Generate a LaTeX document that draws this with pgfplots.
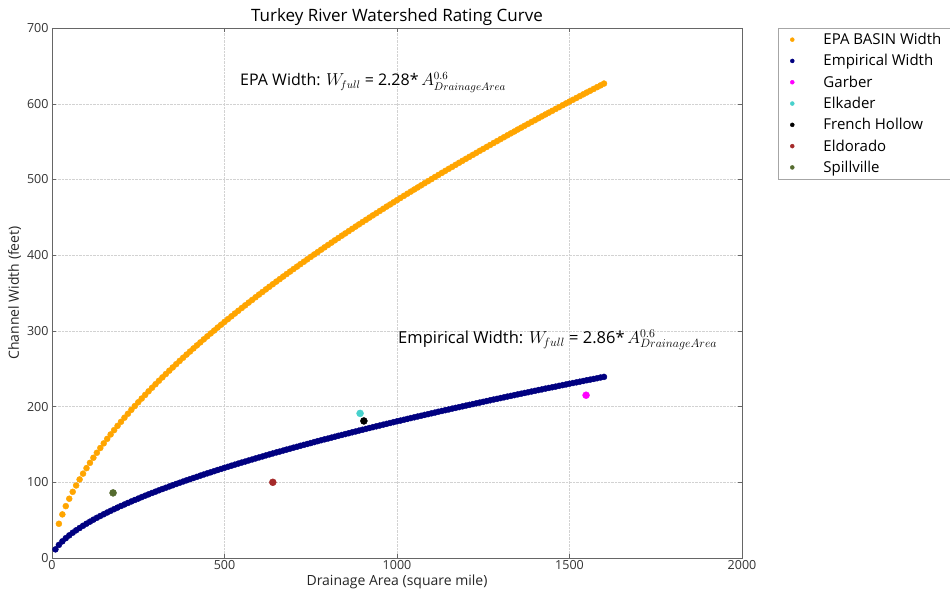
\documentclass[border=0pt]{standalone}
\usepackage{pgfplots}
\pgfplotsset{compat=1.18}
\usepackage{fontspec}
\setmainfont{Open Sans}
\definecolor{epaorange}{RGB}{255,165,0}
\definecolor{empnavy}{RGB}{0,0,128}
\definecolor{garber}{RGB}{255,0,255}
\definecolor{elkader}{RGB}{72,209,204}
\definecolor{eldorado}{RGB}{165,42,42}
\definecolor{spill}{RGB}{85,107,47}
\begin{document}
\begin{tikzpicture}
\path[use as bounding box] (-52pt,-32pt) rectangle (898pt,558pt);
\begin{axis}[
  at={(0pt,0pt)}, anchor=south west,
  scale only axis, width=690pt, height=530pt,
  xmin=0, xmax=2000, ymin=0, ymax=700,
  xtick={0,500,1000,1500,2000},
  ytick={0,100,200,300,400,500,600,700},
  /pgf/number format/1000 sep={},
  /pgf/number format/assume math mode=true,
  tick label style={font=\fontsize{12.5}{14}\selectfont, text=black!80},
  xticklabel style={yshift=1pt},
  axis line style={gray!80!black},
  tick style={gray!80!black},
  grid=major,
  major grid style={densely dotted, gray!35},
  title={Turkey River Watershed Rating Curve},
  title style={font=\fontsize{17}{19}\selectfont, yshift=-7pt},
  xlabel={Drainage Area (square mile)},
  ylabel={Channel Width (feet)},
  label style={font=\fontsize{14}{16}\selectfont, text=black!85},
  xlabel style={yshift=2pt},
  ylabel style={yshift=-1pt},
  legend style={at={(1.052,1)}, anchor=north west, draw=gray!70,
    font=\fontsize{15}{17}\selectfont, row sep=4.4pt,
    inner xsep=7pt, inner ysep=3pt},
  legend cell align=left,
  legend image code/.code={%
    \path (0pt,0pt) (36pt,0pt);
    \draw[#1, mark size=2pt] plot coordinates {(7pt,0pt)};},
]
\addplot[only marks, mark=*, mark size=3pt, color=epaorange] coordinates {
(20,45.2) (30,57.6) (40,68.5) (50,78.3) (60,87.4) (70,95.8) (80,103.8) (90,111.4) (100,118.7)
(110,125.7) (120,132.4) (130,139.0) (140,145.3) (150,151.4) (160,157.4) (170,163.2) (180,168.9) (190,174.5) (200,179.9)
(210,185.3) (220,190.5) (230,195.7) (240,200.7) (250,205.7) (260,210.6) (270,215.4) (280,220.2) (290,224.9) (300,229.5)
(310,234.1) (320,238.6) (330,243.0) (340,247.4) (350,251.7) (360,256.0) (370,260.3) (380,264.5) (390,268.6) (400,272.7)
(410,276.8) (420,280.8) (430,284.8) (440,288.8) (450,292.7) (460,296.6) (470,300.4) (480,304.3) (490,308.1) (500,311.8)
(510,315.5) (520,319.2) (530,322.9) (540,326.5) (550,330.2) (560,333.7) (570,337.3) (580,340.8) (590,344.4) (600,347.9)
(610,351.3) (620,354.8) (630,358.2) (640,361.6) (650,365.0) (660,368.3) (670,371.7) (680,375.0) (690,378.3) (700,381.6)
(710,384.8) (720,388.1) (730,391.3) (740,394.5) (750,397.7) (760,400.9) (770,404.0) (780,407.2) (790,410.3) (800,413.4)
(810,416.5) (820,419.6) (830,422.6) (840,425.7) (850,428.7) (860,431.7) (870,434.7) (880,437.7) (890,440.7) (900,443.7)
(910,446.6) (920,449.6) (930,452.5) (940,455.4) (950,458.3) (960,461.2) (970,464.1) (980,466.9) (990,469.8) (1000,472.6)
(1010,475.5) (1020,478.3) (1030,481.1) (1040,483.9) (1050,486.7) (1060,489.4) (1070,492.2) (1080,495.0) (1090,497.7) (1100,500.4)
(1110,503.2) (1120,505.9) (1130,508.6) (1140,511.3) (1150,514.0) (1160,516.6) (1170,519.3) (1180,522.0) (1190,524.6) (1200,527.3)
(1210,529.9) (1220,532.5) (1230,535.1) (1240,537.8) (1250,540.3) (1260,542.9) (1270,545.5) (1280,548.1) (1290,550.6) (1300,553.2)
(1310,555.7) (1320,558.3) (1330,560.8) (1340,563.3) (1350,565.9) (1360,568.4) (1370,570.9) (1380,573.4) (1390,575.9) (1400,578.3)
(1410,580.8) (1420,583.3) (1430,585.8) (1440,588.2) (1450,590.6) (1460,593.1) (1470,595.5) (1480,598.0) (1490,600.4) (1500,602.8)
(1510,605.2) (1520,607.6) (1530,610.0) (1540,612.4) (1550,614.8) (1560,617.1) (1570,619.5) (1580,621.9) (1590,624.2) (1600,626.6)
};
\addlegendentry{EPA BASIN Width}
\addplot[only marks, mark=*, mark size=3pt, color=empnavy] coordinates {
(10,11.4) (20,17.3) (30,22.0) (40,26.2) (50,29.9) (60,33.4) (70,36.6) (80,39.6) (90,42.6) (100,45.3)
(110,48.0) (120,50.6) (130,53.1) (140,55.5) (150,57.8) (160,60.1) (170,62.3) (180,64.5) (190,66.6) (200,68.7)
(210,70.7) (220,72.7) (230,74.7) (240,76.6) (250,78.5) (260,80.4) (270,82.3) (280,84.1) (290,85.9) (300,87.6)
(310,89.4) (320,91.1) (330,92.8) (340,94.5) (350,96.1) (360,97.8) (370,99.4) (380,101.0) (390,102.6) (400,104.1)
(410,105.7) (420,107.2) (430,108.8) (440,110.3) (450,111.8) (460,113.2) (470,114.7) (480,116.2) (490,117.6) (500,119.1)
(510,120.5) (520,121.9) (530,123.3) (540,124.7) (550,126.1) (560,127.4) (570,128.8) (580,130.1) (590,131.5) (600,132.8)
(610,134.1) (620,135.5) (630,136.8) (640,138.1) (650,139.4) (660,140.6) (670,141.9) (680,143.2) (690,144.4) (700,145.7)
(710,146.9) (720,148.2) (730,149.4) (740,150.6) (750,151.8) (760,153.1) (770,154.3) (780,155.5) (790,156.7) (800,157.8)
(810,159.0) (820,160.2) (830,161.4) (840,162.5) (850,163.7) (860,164.8) (870,166.0) (880,167.1) (890,168.3) (900,169.4)
(910,170.5) (920,171.7) (930,172.8) (940,173.9) (950,175.0) (960,176.1) (970,177.2) (980,178.3) (990,179.4) (1000,180.5)
(1010,181.5) (1020,182.6) (1030,183.7) (1040,184.8) (1050,185.8) (1060,186.9) (1070,187.9) (1080,189.0) (1090,190.0) (1100,191.1)
(1110,192.1) (1120,193.2) (1130,194.2) (1140,195.2) (1150,196.2) (1160,197.3) (1170,198.3) (1180,199.3) (1190,200.3) (1200,201.3)
(1210,202.3) (1220,203.3) (1230,204.3) (1240,205.3) (1250,206.3) (1260,207.3) (1270,208.3) (1280,209.3) (1290,210.2) (1300,211.2)
(1310,212.2) (1320,213.2) (1330,214.1) (1340,215.1) (1350,216.1) (1360,217.0) (1370,218.0) (1380,218.9) (1390,219.9) (1400,220.8)
(1410,221.8) (1420,222.7) (1430,223.7) (1440,224.6) (1450,225.5) (1460,226.4) (1470,227.4) (1480,228.3) (1490,229.2) (1500,230.2)
(1510,231.1) (1520,232.0) (1530,232.9) (1540,233.8) (1550,234.8) (1560,235.6) (1570,236.5) (1580,237.4) (1590,238.4) (1600,239.2)
};
\addlegendentry{Empirical Width}
\addplot[only marks, mark=*, mark size=3.5pt, color=garber] coordinates {(1548,215)};
\addlegendentry{Garber}
\addplot[only marks, mark=*, mark size=3.5pt, color=elkader] coordinates {(893,191)};
\addlegendentry{Elkader}
\addplot[only marks, mark=*, mark size=3.5pt, color=black] coordinates {(904,181)};
\addlegendentry{French Hollow}
\addplot[only marks, mark=*, mark size=3.5pt, color=eldorado] coordinates {(640,100)};
\addlegendentry{Eldorado}
\addplot[only marks, mark=*, mark size=3.5pt, color=spill] coordinates {(177,86)};
\addlegendentry{Spillville}
\node[anchor=west, font=\fontsize{16}{18}\selectfont, inner sep=0pt] at (axis cs:545,628)
  {EPA Width: $W_{\!full}$ = 2.28*\,$A^{0.6}_{DrainageArea}$};
\node[anchor=west, font=\fontsize{16.5}{18}\selectfont, inner sep=0pt] at (axis cs:1003,288)
  {Empirical Width: $W_{\!full}$ = 2.86*\,$A^{0.6}_{DrainageArea}$};
\end{axis}
\end{tikzpicture}
\end{document}
